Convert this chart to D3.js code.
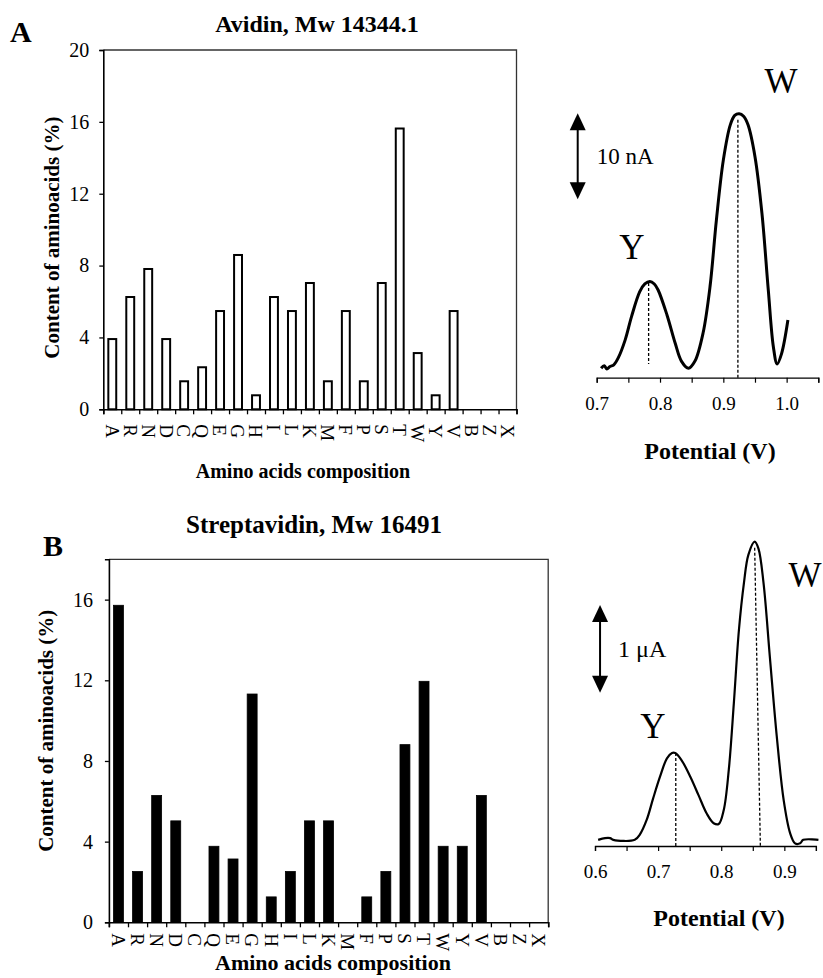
<!DOCTYPE html>
<html>
<head>
<meta charset="utf-8">
<script src="https://cdn.jsdelivr.net/npm/d3@7/dist/d3.min.js"></script>
<style>
  html, body { margin: 0; padding: 0; background: #fff; }
  svg { display: block; }
  text { font-family: "Liberation Serif", "Times New Roman", serif; fill: #000; }
</style>
</head>
<body>
<svg id="chart" width="823" height="978"></svg>
<script>
// ---------------- DATA ----------------
const categories = ["A","R","N","D","C","Q","E","G","H","I","L","K","M","F","P","S","T","W","Y","V","B","Z","X"];
const avidinContent = [3.91,6.25,7.81,3.91,1.56,2.34,5.47,8.59,0.78,6.25,5.47,7.03,1.56,5.47,1.56,7.03,15.63,3.13,0.78,5.47,0,0,0];
const streptavidinContent = [15.72,2.52,6.29,5.03,0,3.77,3.14,11.32,1.26,2.52,5.03,5.03,0,1.26,2.52,8.81,11.95,3.77,3.77,6.29,0,0,0];
const yTicksA = [0,4,8,12,16,20];
const yTicksB = [0,4,8,12,16];

// Avidin voltammogram (potential V, current nA)
const avidinV = [0.707,0.712,0.716,0.721,0.727,0.734,0.745,0.755,0.768,0.776,0.784,0.791,0.797,0.811,0.824,0.834,0.845,0.855,0.868,0.879,0.889,0.900,0.911,0.918,0.925,0.932,0.939,0.950,0.961,0.971,0.979,0.985,0.992,1.002];
const avidinI = [1.1,1.4,1.0,1.3,1.5,2.3,4.4,7.1,10.0,10.9,11.2,10.9,10.2,7.3,4.0,1.9,1.1,1.9,5.2,10.6,18.3,25.3,29.4,30.5,30.7,30.4,29.4,25.7,19.1,10.2,3.6,1.6,2.8,6.7];
// Streptavidin voltammogram (potential V, current µA)
const streptV = [0.605,0.616,0.624,0.629,0.663,0.671,0.682,0.692,0.703,0.714,0.722,0.727,0.737,0.751,0.764,0.777,0.788,0.796,0.804,0.812,0.820,0.828,0.836,0.843,0.853,0.859,0.867,0.877,0.888,0.899,0.909,0.917,0.925,0.930,0.954];
const streptI = [0.07,0.09,0.09,0.07,0.07,0.13,0.30,0.54,0.79,1.00,1.06,1.06,0.98,0.79,0.58,0.37,0.26,0.25,0.41,0.87,1.63,2.46,3.00,3.32,3.47,3.39,3.00,2.16,1.25,0.52,0.15,0.03,0.03,0.07,0.07];
const potTicksA = [0.7,0.75,0.8,0.85,0.9,0.95,1.0,1.05];
const potTicksB = [0.6,0.65,0.7,0.75,0.8,0.85,0.9,0.95];

const svg = d3.select("#chart");
svg.append("rect").attr("width",823).attr("height",978).attr("fill","#fff");

// ---------------- BAR CHART helper ----------------
function barChart(opts) {
  const g = svg.append("g");
  const x = d3.scaleBand().domain(categories).range([opts.left, opts.right]).padding(0);
  const xi = d3.scaleLinear().domain([0, categories.length]).range([opts.left, opts.right]);
  const y = d3.scaleLinear().domain([0, opts.ymax]).range([opts.bottom, opts.top]);

  g.append("path")
    .attr("d", `M${opts.left},${opts.top}H${opts.right}V${opts.bottom}`)
    .attr("fill","none").attr("stroke","#333").attr("stroke-width",1.3);

  const bw = x.bandwidth() * opts.barFrac;
  g.selectAll("rect.bar").data(categories.map((c,i)=>({c, v: opts.values[i]})).filter(d=>d.v>0))
    .enter().append("rect").attr("class","bar")
    .attr("x", d => x(d.c) + (x.bandwidth()-bw)/2)
    .attr("width", bw)
    .attr("y", d => y(d.v))
    .attr("height", d => y(0) - y(d.v))
    .attr("fill", opts.fill)
    .attr("stroke", "#000")
    .attr("stroke-width", opts.strokeW);

  const ya = g.append("g").attr("transform",`translate(${opts.left},0)`)
    .call(d3.axisLeft(y).tickValues(opts.yTicks).tickSize(4).tickPadding(opts.tickPad).tickFormat(d3.format("d")));
  ya.select(".domain").attr("stroke","#000").attr("stroke-width",1.6);
  ya.selectAll(".tick line").attr("stroke","#000").attr("stroke-width",1.3);
  ya.selectAll("text").style("font-family","Liberation Serif").style("font-size","20px").attr("fill","#000");

  const xa = g.append("g").attr("transform",`translate(0,${opts.bottom})`)
    .call(d3.axisBottom(xi).tickValues(d3.range(categories.length+1)).tickSize(5).tickFormat(""));
  xa.select(".domain").attr("stroke","#000").attr("stroke-width",1.6);
  xa.selectAll(".tick line").attr("stroke","#000").attr("stroke-width",1.3);

  g.selectAll("text.cat").data(categories).enter().append("text")
    .attr("class","cat")
    .attr("transform", d => `translate(${x(d) + x.bandwidth()/2},${opts.bottom + opts.catOffset}) rotate(90)`)
    .attr("dy","0.35em")
    .style("font-size", opts.catSize + "px")
    .text(d => d);

  g.append("text")
    .attr("transform", `translate(${opts.ylabX},${(opts.top+opts.bottom)/2 + opts.ylabShift}) rotate(-90)`)
    .attr("text-anchor","middle").attr("dy","0.35em")
    .style("font-size","21px").style("font-weight","bold")
    .text("Content of aminoacids (%)");
  g.append("text")
    .attr("x", opts.xlabX).attr("y", opts.xlabY)
    .attr("text-anchor","middle")
    .style("font-size", opts.xlabSize + "px").style("font-weight","bold")
    .text("Amino acids composition");
  g.append("text")
    .attr("x", opts.titleX).attr("y", opts.titleY)
    .attr("text-anchor","middle")
    .style("font-size", opts.titleSize + "px").style("font-weight","bold")
    .text(opts.title);
  g.append("text")
    .attr("x", opts.letterX).attr("y", opts.letterY)
    .style("font-size","30px").style("font-weight","bold")
    .text(opts.letter);
}

barChart({
  left: 103.3, right: 516.5, top: 50, bottom: 409.3, ymax: 20, yTicks: yTicksA,
  values: avidinContent, fill: "#fff", strokeW: 2, barFrac: 0.44, tickPad: 10,
  catOffset: 15, catSize: 19,
  ylabX: 52, ylabShift: 8, xlabX: 303, xlabY: 478, xlabSize: 20,
  title: "Avidin, Mw 14344.1", titleX: 317, titleY: 32, titleSize: 24,
  letter: "A", letterX: 10, letterY: 42
});
barChart({
  left: 108.9, right: 548.2, top: 559.3, bottom: 922.3, ymax: 18, yTicks: yTicksB,
  values: streptavidinContent, fill: "#000", strokeW: 0.8, barFrac: 0.52, tickPad: 12,
  catOffset: 11, catSize: 19,
  ylabX: 46, ylabShift: -10, xlabX: 333, xlabY: 970, xlabSize: 22,
  title: "Streptavidin, Mw 16491", titleX: 314, titleY: 533, titleSize: 25,
  letter: "B", letterX: 43, letterY: 556
});

// ---------------- VOLTAMMOGRAM helper ----------------
function voltammogram(o) {
  const g = svg.append("g");
  const x = d3.scaleLinear().domain(o.xdom).range(o.xr);
  const y = d3.scaleLinear().domain([0, 1]).range([o.axisY, o.axisY - o.pxPerUnit]);

  const ax = g.append("g").attr("transform",`translate(0,${o.axisY})`)
    .call(d3.axisBottom(x).tickValues(o.ticks).tickSize(5).tickPadding(14)
      .tickFormat(d => (Math.round(d*100) % 10 === 0) ? d3.format(".1f")(d) : ""));
  ax.select(".domain").attr("stroke","#000").attr("stroke-width",1.3);
  ax.selectAll(".tick line").attr("stroke","#000").attr("stroke-width",1.2);
  ax.selectAll("text").style("font-family","Liberation Serif").style("font-size","19px").attr("fill","#000");

  const line = d3.line().x((d,i)=>x(o.V[i])).y((d,i)=>y(o.I[i])).curve(d3.curveCatmullRom.alpha(0.5));
  g.append("path").datum(o.V).attr("d", line)
    .attr("fill","none").attr("stroke","#000").attr("stroke-width",o.lineW).attr("stroke-linejoin","round");

  o.dashes.forEach(dd => {
    g.append("line")
      .attr("x1", x(dd[0])).attr("y1", y(dd[1]))
      .attr("x2", x(dd[2])).attr("y2", y(dd[3]))
      .attr("stroke","#000").attr("stroke-width",1.3).attr("stroke-dasharray","3,2");
  });

  const ax0 = x(o.arrow[0]), yt = y(o.arrow[1]), yb = y(o.arrow[2]);
  const hh = 17, hw = 8;
  g.append("line").attr("x1",ax0).attr("x2",ax0).attr("y1",yt+hh-2).attr("y2",yb-hh+2)
    .attr("stroke","#000").attr("stroke-width",2);
  g.append("path").attr("d",`M${ax0},${yt}L${ax0-hw},${yt+hh}L${ax0+hw},${yt+hh}Z`).attr("fill","#000");
  g.append("path").attr("d",`M${ax0},${yb}L${ax0-hw},${yb-hh}L${ax0+hw},${yb-hh}Z`).attr("fill","#000");
  g.append("text").attr("x", ax0 + o.arrowLabDx).attr("y", (yt+yb)/2 + 8)
    .style("font-size", o.arrowLabSize + "px").text(o.unitLabel);

  o.peaks.forEach(p => {
    g.append("text").attr("x", p.x).attr("y", p.y).attr("text-anchor","middle")
      .style("font-size","35px").text(p.t);
  });

  g.append("text").attr("x", o.xlabX).attr("y", o.xlabY).attr("text-anchor","middle")
    .style("font-size","24px").style("font-weight","bold").text("Potential (V)");
}

voltammogram({
  xdom: [0.7, 1.05], xr: [596.7, 818.3], axisY: 377.7, pxPerUnit: 8.6,
  ticks: potTicksA, V: avidinV, I: avidinI, lineW: 3,
  dashes: [[0.782, 11.0, 0.782, 1.6], [0.923, 30.0, 0.923, 0]],
  arrow: [0.670, 30.74, 20.74], arrowLabDx: 19, arrowLabSize: 23, unitLabel: "10 nA",
  peaks: [{t:"Y", x:632, y:259}, {t:"W", x:781, y:93}],
  xlabX: 710, xlabY: 459
});
voltammogram({
  xdom: [0.6, 0.95], xr: [595, 815.9], axisY: 846, pxPerUnit: 87.7,
  ticks: potTicksB, V: streptV, I: streptI, lineW: 2.2,
  dashes: [[0.728, 1.06, 0.728, 0], [0.853, 3.40, 0.862, 0]],
  arrow: [0.608, 2.748, 1.748], arrowLabDx: 18, arrowLabSize: 24, unitLabel: "1 \u03bcA",
  peaks: [{t:"Y", x:653, y:738}, {t:"W", x:805, y:587}],
  xlabX: 719, xlabY: 926
});
</script>
</body>
</html>
